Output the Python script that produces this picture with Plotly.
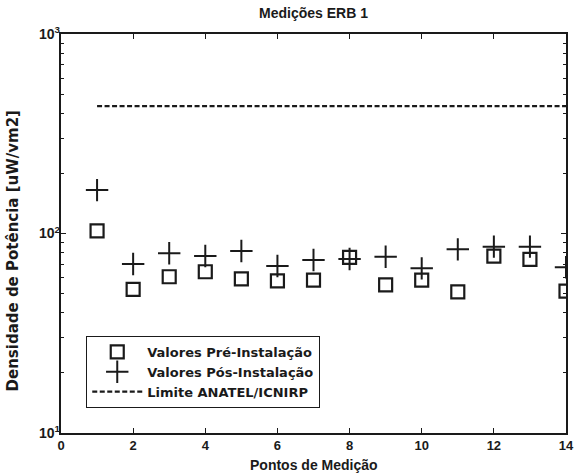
import plotly.graph_objects as go

pontos = list(range(1, 15))
pre_instalacao = [103, 52.5, 60.7, 64.3, 59.3, 57.9, 58.4, 75.9, 55.3, 58.4, 51.0, 77.1, 74.2, 51.4]
pos_instalacao = [165, 70.3, 79.6, 77.1, 81.7, 68.7, 73.6, 74.5, 76.5, 66.9, 83.3, 85.9, 85.9, 67.7]
limite_x = [1, 14]
limite_valor = [435, 435]

x_ticks = [0, 2, 4, 6, 8, 10, 12, 14]
y_ticks = [10, 100, 1000]
y_ticktext = ["10<sup>1</sup>", "10<sup>2</sup>", "10<sup>3</sup>"]
y_minor_ticks = [20, 30, 40, 50, 60, 70, 80, 90, 200, 300, 400, 500, 600, 700, 800, 900]

FONT = "Liberation Sans, Arial, Helvetica, sans-serif"
WIDE = "DejaVu Sans, Liberation Sans, sans-serif"
INK = "#1a1a1a"

fig = go.Figure()
fig.add_trace(go.Scatter(
    x=pontos, y=pre_instalacao, mode="markers", name="<b>Valores Pré-Instalação</b>",
    marker=dict(symbol="square-open", size=13, color=INK, line=dict(width=2.2, color=INK)),
))
fig.add_trace(go.Scatter(
    x=pontos, y=pos_instalacao, mode="markers", name="<b>Valores Pós-Instalação</b>",
    marker=dict(symbol="cross-thin-open", size=16, color=INK, line=dict(width=2, color=INK)),
))
fig.add_trace(go.Scatter(
    x=limite_x, y=limite_valor, mode="lines", name="<b>Limite ANATEL/ICNIRP</b>",
    line=dict(color=INK, width=2.2, dash="5px,2.5px"), yaxis="y2",
))

fig.update_layout(
    width=574, height=475,
    margin=dict(l=61, r=8, t=34, b=42),
    paper_bgcolor="white", plot_bgcolor="white",
    font=dict(family=FONT, size=13, color=INK),
    title=dict(text="<b>Medições ERB 1</b>", x=(61 + 566) / 2 / 574, xanchor="center",
               y=1 - 13 / 475, yanchor="middle", font=dict(size=14)),
    showlegend=True,
    legend=dict(x=0.05, y=0.063, xanchor="left", yanchor="bottom",
                bordercolor=INK, borderwidth=1, bgcolor="white",
                font=dict(family=WIDE, size=13), tracegroupgap=0, itemwidth=50),
    annotations=[
        dict(text="<b>Densidade de Potência [uW/vm2]</b>", textangle=-90,
             xref="paper", yref="paper", x=-0.095, y=0.455, xanchor="center", yanchor="middle",
             showarrow=False, font=dict(family=WIDE, size=15, color=INK)),
        dict(text="<b>Pontos de Medição</b>",
             xref="paper", yref="paper", x=0.5, y=-0.08, xanchor="center", yanchor="middle",
             showarrow=False, font=dict(size=14, color=INK)),
    ],
    xaxis=dict(
        range=[0, 14], tickvals=x_ticks, ticktext=[f"<b>{v}</b>" for v in x_ticks],
        ticks="inside", ticklen=5, tickwidth=1, tickcolor=INK, tickfont=dict(size=13),
        showline=True, linecolor=INK, linewidth=1.5, mirror="ticks",
        showgrid=False, zeroline=False, automargin=False,
    ),
    yaxis=dict(
        type="log", range=[1, 3], tickvals=y_minor_ticks, ticktext=["" for _ in y_minor_ticks],
        ticks="inside", ticklen=3, tickwidth=1, tickcolor=INK,
        showline=True, linecolor=INK, linewidth=1.5, mirror="ticks",
        showgrid=False, zeroline=False, automargin=False,
    ),
    yaxis2=dict(
        type="log", range=[1, 3], overlaying="y", side="left",
        tickvals=y_ticks, ticktext=[f"<b>{t}</b>" for t in y_ticktext],
        ticks="inside", ticklen=5, tickwidth=1, tickcolor=INK,
        tickfont=dict(size=14, family=FONT, color=INK),
        showline=False, mirror="ticks",
        showgrid=False, zeroline=False, automargin=False,
    ),
)

fig.write_html("out.html")
